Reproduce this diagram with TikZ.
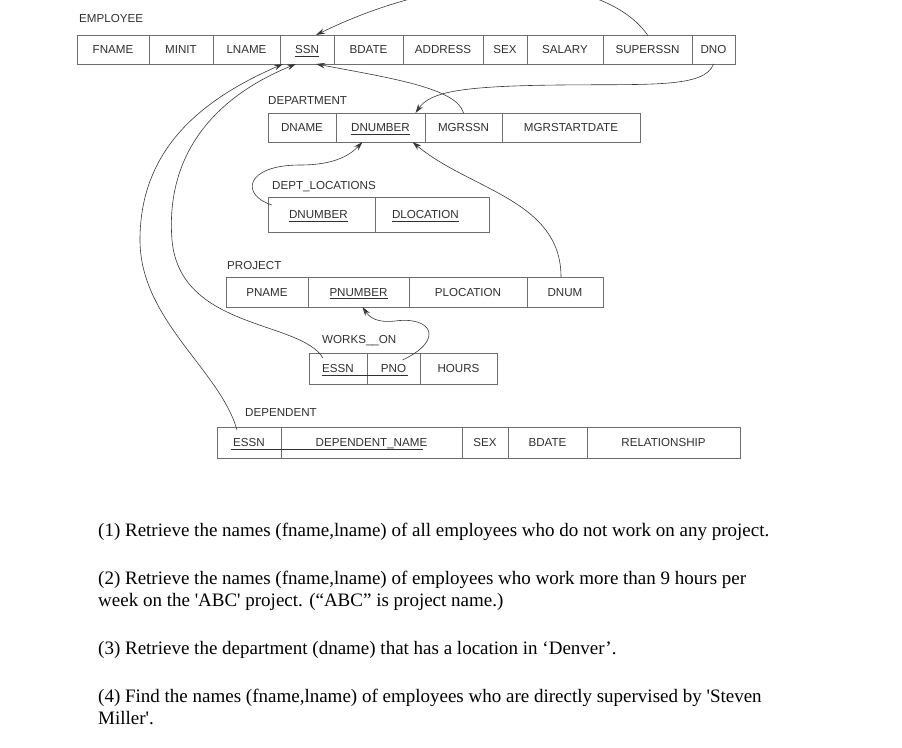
\documentclass[tikz,border=0pt]{standalone}
\usepackage{fontspec}
\setmainfont{Liberation Serif}
\setsansfont{Liberation Sans}
\usetikzlibrary{positioning,arrows.meta,calc}

\definecolor{boxgray}{HTML}{6E6E6E}
\definecolor{txtgray}{HTML}{303030}
\definecolor{arrgray}{HTML}{383838}

% key attribute, underlined a little below the text
\newcommand{\keyline}[1]{\setbox0\hbox{#1}\rlap{\rule[-3pt]{\wd0}{0.7pt}}\box0}

\begin{document}
\begin{tikzpicture}[x=1pt,y=-1pt,
    cell/.style={draw=boxgray, line width=0.8pt, minimum width=#1, inner sep=0pt, outer sep=0pt,
      text=txtgray, text height=8.2pt, text depth=0pt,
      font=\sffamily\fontsize{11.6}{13}\selectfont},
    lcell/.style 2 args={cell=#1, align=left, inner xsep=#2, text width=#1-2*#2},
    relname/.style={anchor=west, inner sep=0pt, text=txtgray,
      font=\sffamily\fontsize{11.6}{13}\selectfont},
    fk/.style={draw=arrgray, line width=0.6pt, -{Stealth[length=9pt,width=5.5pt]}},
    qtext/.style={anchor=base west, inner sep=0pt, align=left,
      font=\fontsize{19}{22}\selectfont}]

  \useasboundingbox (0,0) rectangle (902,747);

  % relation names
  \node[relname] (lemp)  at (79,19)  {EMPLOYEE};
  \node[relname] (ldept) at (268,101) {DEPARTMENT};
  \node[relname] (lloc)  at (272,187) {DEPT\_LOCATIONS};
  \node[relname] (lproj) at (227,266) {PROJECT};
  \node[relname] (lwork) at (322,341) {WORKS\_\_ON};
  \node[relname] (ldep)  at (245,413) {DEPENDENT};

  % EMPLOYEE
  \begin{scope}[every node/.style={minimum height=29pt}]
    \node[cell=72, anchor=north west] (fname) at (77,35) {FNAME};
    \node[cell=64, right=0pt of fname]  (minit)    {MINIT};
    \node[cell=67, right=0pt of minit]  (lname)    {LNAME};
    \node[cell=54, right=0pt of lname]  (ssn)      {\keyline{SSN}};
    \node[cell=69, right=0pt of ssn]    (bdate)    {BDATE};
    \node[cell=80, right=0pt of bdate]  (address)  {ADDRESS};
    \node[cell=44, right=0pt of address] (sex)     {SEX};
    \node[cell=76, right=0pt of sex]    (salary)   {SALARY};
    \node[cell=89, right=0pt of salary] (superssn) {SUPERSSN};
    \node[cell=43, right=0pt of superssn] (dno)    {DNO};
  \end{scope}

  % DEPARTMENT
  \begin{scope}[every node/.style={minimum height=29pt}]
    \node[cell=68, anchor=north west] (dname) at (268,113) {DNAME};
    \node[cell=89, right=0pt of dname]   (dnumber) {\keyline{DNUMBER}};
    \node[cell=77, right=0pt of dnumber] (mgrssn)  {MGRSSN};
    \node[cell=138, right=0pt of mgrssn] (mgrdate) {MGRSTARTDATE};
  \end{scope}

  % DEPT_LOCATIONS
  \begin{scope}[every node/.style={minimum height=35pt}]
    \node[lcell={107}{21}, anchor=north west] (dlnum) at (268,197) {\keyline{DNUMBER}};
    \node[lcell={114}{17}, right=0pt of dlnum] (dlloc) {\keyline{DLOCATION}};
  \end{scope}

  % PROJECT
  \begin{scope}[every node/.style={minimum height=30pt}]
    \node[cell=82, anchor=north west] (pname) at (226,277) {PNAME};
    \node[cell=101, right=0pt of pname]   (pnumber)   {\keyline{PNUMBER}};
    \node[cell=118, right=0pt of pnumber] (plocation) {PLOCATION};
    \node[cell=76, right=0pt of plocation] (dnum)     {DNUM};
  \end{scope}

  % WORKS_ON
  \begin{scope}[every node/.style={minimum height=31pt}]
    \node[cell=58, anchor=north west] (wessn) at (309,353) {ESSN};
    \node[cell=53, right=0pt of wessn] (pno)   {PNO};
    \node[cell=77, right=0pt of pno]   (hours) {HOURS};
  \end{scope}
  \draw[txtgray, line width=0.7pt] ($(wessn.base west)+(13,3)$) -- ($(pno.base east)+(-12,3)$);

  % DEPENDENT
  \begin{scope}[every node/.style={minimum height=31pt}]
    \node[cell=64, anchor=north west] (dessn) at (217,427) {ESSN};
    \node[cell=181, right=0pt of dessn]   (depname)  {DEPENDENT\_NAME};
    \node[cell=46, right=0pt of depname]  (dsex)     {SEX};
    \node[cell=79, right=0pt of dsex]     (dbdate)   {BDATE};
    \node[cell=153, right=0pt of dbdate]  (relation) {RELATIONSHIP};
  \end{scope}
  \draw[txtgray, line width=0.7pt] ($(dessn.base west)+(14,3)$) -- ($(depname.base east)+(-39,3)$);

  % referential integrity constraints
  \draw[fk] (superssn.north) .. controls (608,-22) and (470,-40) .. ($(ssn.north)+(9,0)$);
  \draw[fk] (mgrssn.north) .. controls (457,88) and (390,78) .. ($(ssn.south)+(9,0)$);
  \draw[fk] (dno.south) .. controls (705,88) and (650,84) .. (560,85)
    .. controls (460,86) and (430,92) .. ($(dnumber.north)+(35,0)$);
  \draw[fk] ($(dlnum.north west)+(4,8)$) .. controls (240,195) and (245,165) .. (300,165)
    .. controls (335,165) and (350,155) .. ($(dnumber.south)-(18,0)$);
  \draw[fk] ($(dnum.north)-(4,0)$) .. controls (561,200) and (470,190) .. ($(dnumber.south)+(32,0)$);
  \draw[fk] ($(pno.north)+(9,7)$) .. controls (445,340) and (432,316) .. (395,321)
    .. controls (378,323) and (370,318) .. ($(pnumber.south)+(4,0)$);
  \draw[fk] ($(wessn.north west)+(14,5)$) .. controls (300,320) and (180,330) .. (172,240)
    .. controls (166,165) and (203,102) .. ($(ssn.south)-(11,0)$);
  \draw[fk] ($(dessn.north)+(-12,3)$) .. controls (220,370) and (140,320) .. (140,240)
    .. controls (140,150) and (200,100) .. ($(ssn.south)-(24,0)$);

  % questions (base is the last line of a node)
  \node[qtext] (q1) at (98,536) {(1) Retrieve the names (fname,lname) of all employees who do not work on any project.};
  \node[qtext] (q2) at (98,606) {(2) Retrieve the names (fname,lname) of employees who work more than 9 hours per\\
    week on the \textquotesingle ABC\textquotesingle\ project. (``ABC'' is project name.)};
  \node[qtext] (q3) at (98,654) {(3) Retrieve the department (dname) that has a location in `Denver'.};
  \node[qtext] (q4) at (98,724) {(4) Find the names (fname,lname) of employees who are directly supervised by \textquotesingle Steven\\
    Miller\textquotesingle.};
\end{tikzpicture}
\end{document}
